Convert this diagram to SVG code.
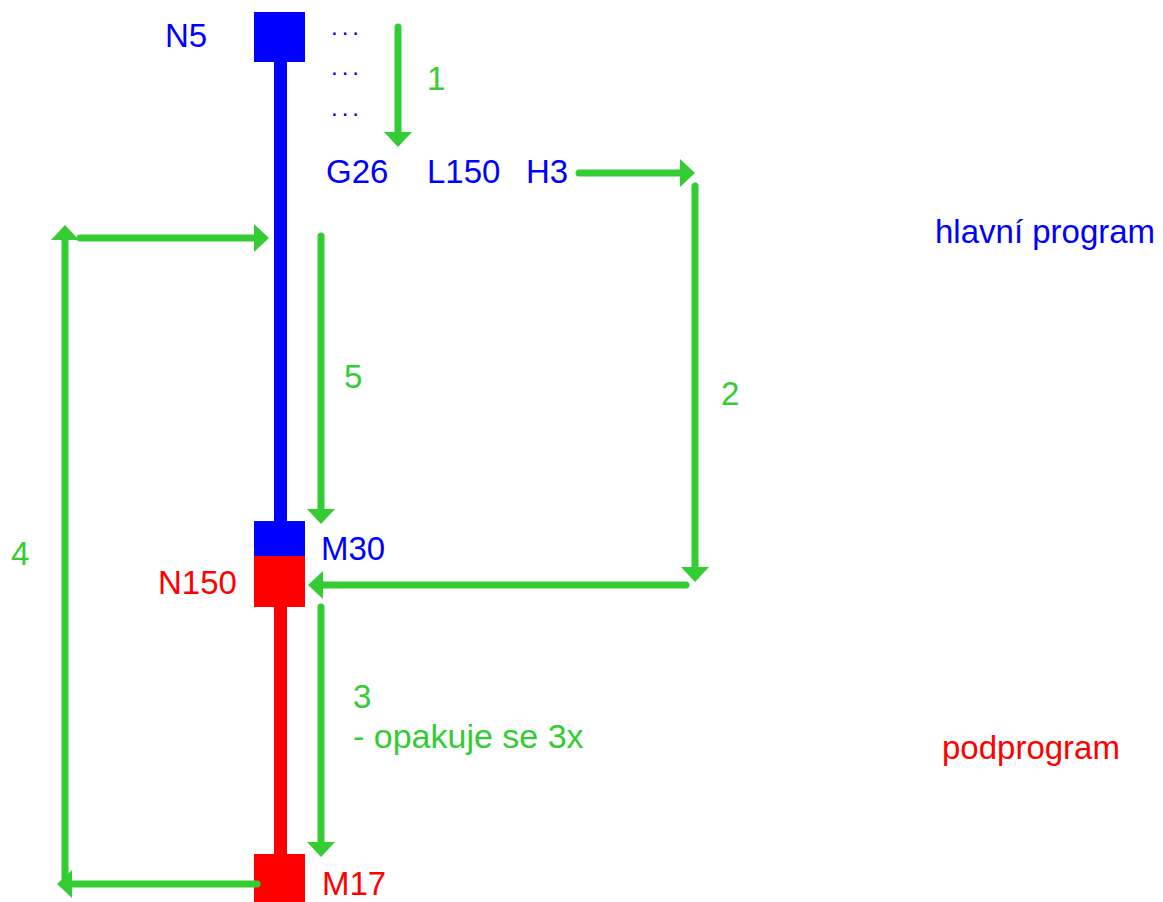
<svg xmlns="http://www.w3.org/2000/svg" width="1163" height="902" viewBox="0 0 1163 902">
<style>
text{font-family:"Liberation Sans",Arial,sans-serif;font-size:33px}
.b{fill:#0000FF}
.r{fill:#FF0000}
.g{fill:#33CC33}
.d{font-size:24px;letter-spacing:4px}
.c{fill:none;stroke:#33CC33;stroke-width:7;stroke-linecap:round}
</style>
<defs>
<marker id="ah" viewBox="0 0 15 28" refX="0" refY="14" markerWidth="15" markerHeight="28" markerUnits="userSpaceOnUse" orient="auto">
<path d="M0,0 L15,14 L0,28 z" fill="#33CC33"/>
</marker>
</defs>
<rect width="1163" height="902" fill="#FFFFFF"/>
<g id="main-bar">
<rect x="274" y="60" width="13" height="463" fill="#0000FF"/>
</g>
<g id="sub-bar">
<rect x="274" y="605" width="13" height="251" fill="#FF0000"/>
</g>
<g id="N5">
<rect x="254" y="12" width="51" height="50" fill="#0000FF"/>
<text x="165" y="47" class="b">N5</text>
</g>
<g id="dots">
<text x="331" y="35" class="b d">...</text>
<text x="331" y="75" class="b d">...</text>
<text x="331" y="116" class="b d">...</text>
</g>
<g id="call">
<text x="326" y="183" class="b">G26</text>
<text x="427" y="183" class="b">L150</text>
<text x="526" y="183" class="b">H3</text>
</g>
<g id="M30">
<rect x="254" y="521" width="51" height="35" fill="#0000FF"/>
<text x="321" y="560" class="b">M30</text>
</g>
<g id="N150">
<rect x="254" y="556" width="51" height="51" fill="#FF0000"/>
<text x="158" y="594" class="r">N150</text>
</g>
<g id="M17">
<rect x="254" y="854" width="51" height="48" fill="#FF0000"/>
<text x="322" y="895" class="r">M17</text>
</g>
<g id="labels">
<text x="935" y="243" class="b">hlavní program</text>
<text x="942" y="759" class="r">podprogram</text>
</g>
<g id="connectors">
<path class="c" d="M398,27 V132" marker-end="url(#ah)"/>
<path class="c" d="M579,173 H680" marker-end="url(#ah)"/>
<path class="c" d="M695,186 V567" marker-end="url(#ah)"/>
<path class="c" d="M686,585 H323" marker-end="url(#ah)"/>
<path class="c" d="M321,607 V842" marker-end="url(#ah)"/>
<path class="c" d="M257,884 H72" marker-end="url(#ah)"/>
<path class="c" d="M65,878 V240" marker-end="url(#ah)"/>
<path class="c" d="M80,238 H254" marker-end="url(#ah)"/>
<path class="c" d="M321,236 V509" marker-end="url(#ah)"/>
</g>
<g id="connector-labels">
<text x="427" y="90" class="g">1</text>
<text x="721" y="405" class="g">2</text>
<text x="353" y="708" class="g">3</text>
<text x="353" y="748" class="g" style="font-size:34px">- opakuje se 3x</text>
<text x="11" y="565" class="g">4</text>
<text x="344" y="388" class="g">5</text>
</g>
</svg>
